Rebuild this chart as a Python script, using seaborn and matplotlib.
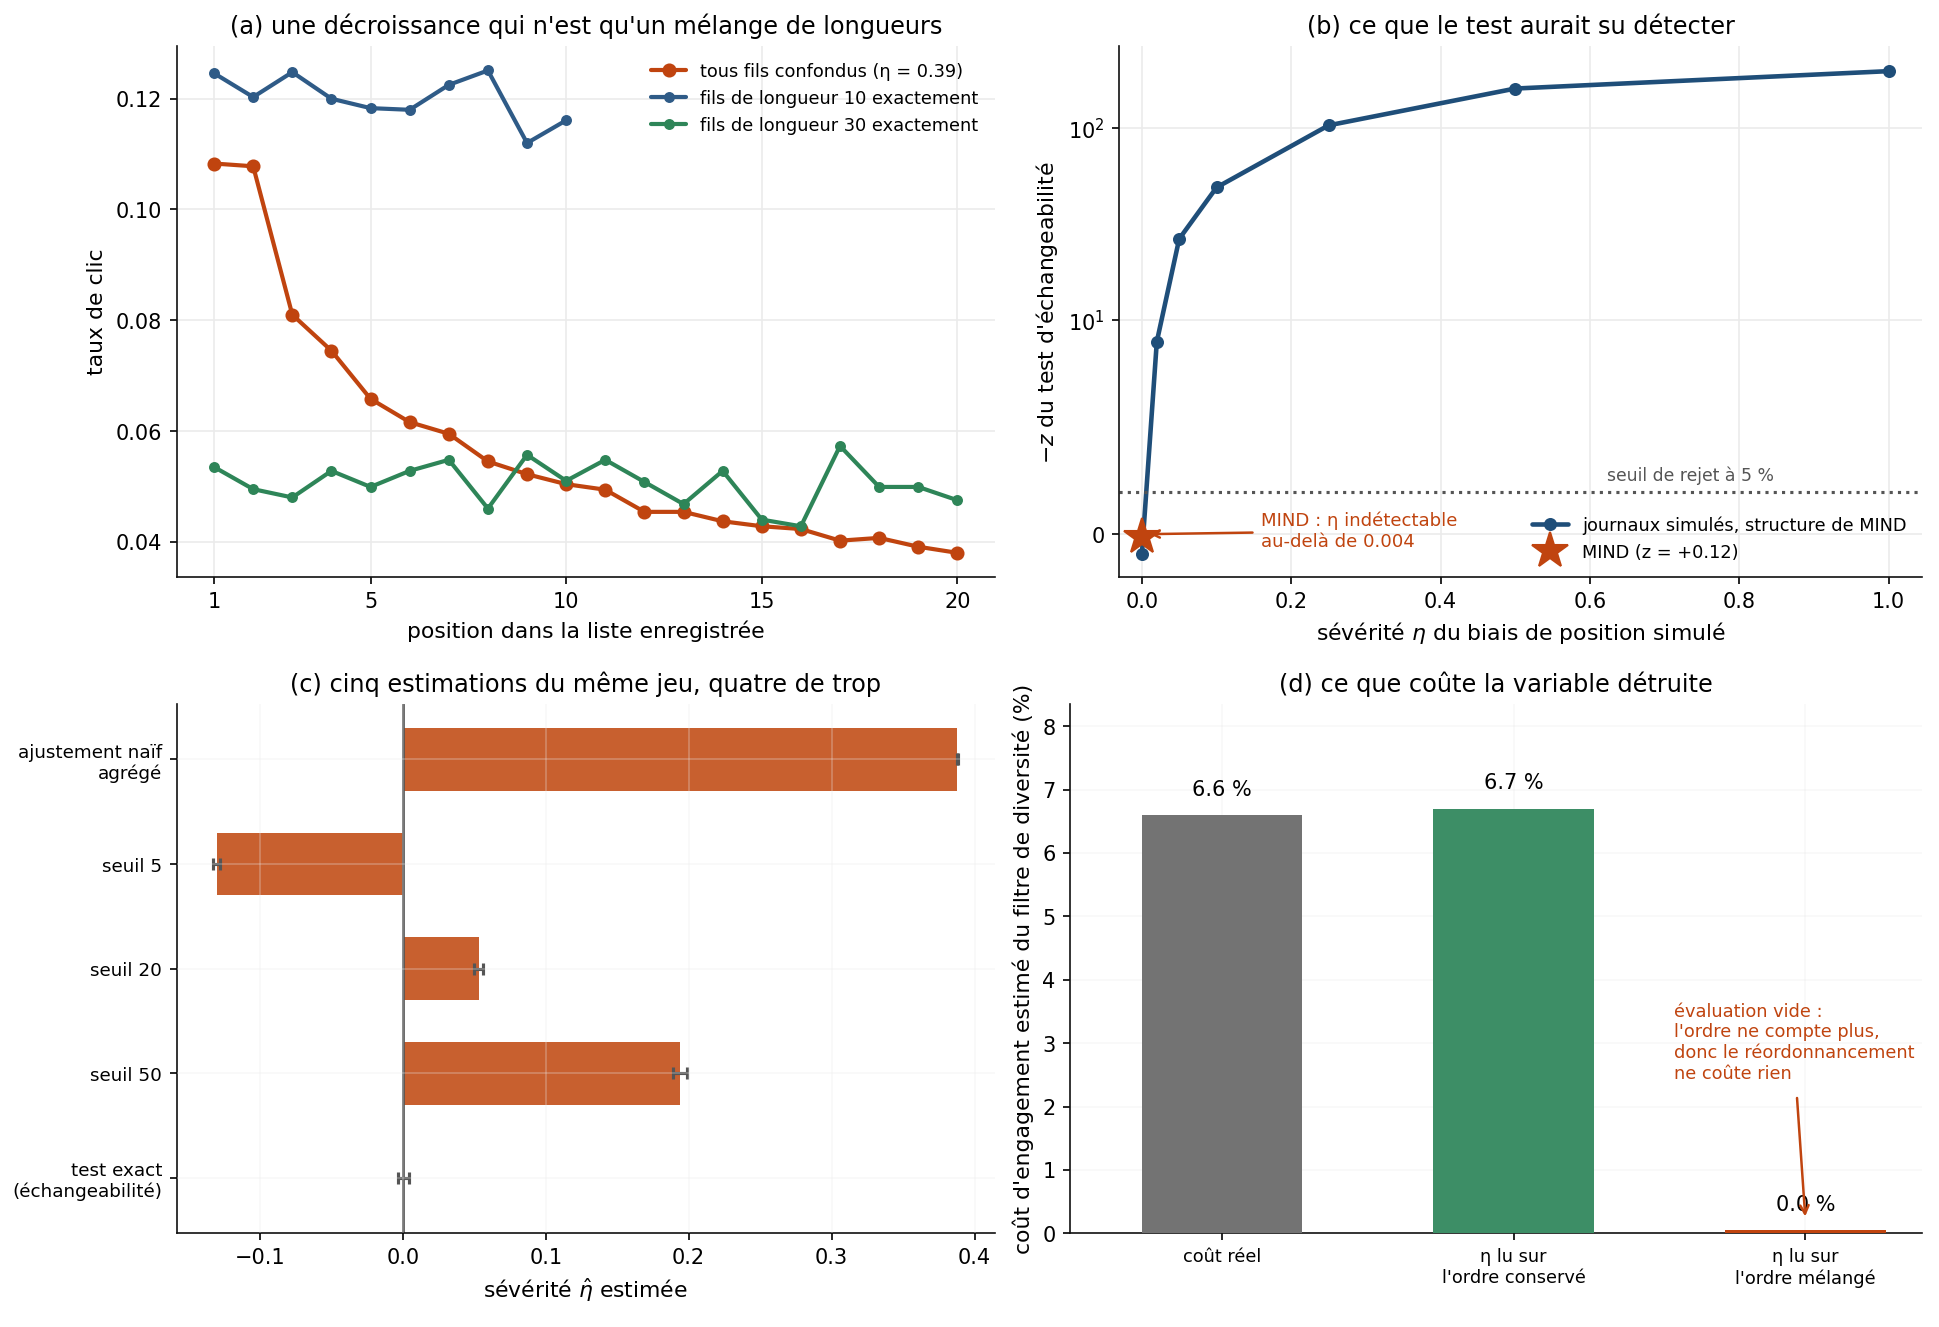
import matplotlib
matplotlib.use("Agg")
import matplotlib.pyplot as plt
import numpy as np
import pandas as pd
import seaborn as sns

# ---- data ----
positions = list(range(1, 21))
ctr_all = [0.1083, 0.1078, 0.0810, 0.0745, 0.0658, 0.0616, 0.0595, 0.0545, 0.0522, 0.0504,
           0.0494, 0.0454, 0.0454, 0.0437, 0.0428, 0.0423, 0.0402, 0.0407, 0.0391, 0.0380]
ctr_len10 = [0.1246, 0.1203, 0.1248, 0.1200, 0.1183, 0.1180, 0.1225, 0.1251, 0.1120, 0.1161]
ctr_len30 = [0.0535, 0.0495, 0.0480, 0.0528, 0.0499, 0.0528, 0.0548, 0.0460, 0.0557, 0.0510,
             0.0548, 0.0508, 0.0468, 0.0528, 0.0440, 0.0428, 0.0573, 0.0499, 0.0499, 0.0475]

eta_sim = [0.0, 0.02, 0.05, 0.1, 0.25, 0.5, 1.0]
neg_z_sim = [-0.94, 9.0, 26.5, 49.0, 103.0, 160.0, 197.0]
mind_eta = 0.0
mind_z = 0.12
z_threshold = 1.96

est_labels = ["ajustement naïf\nagrégé", "seuil 5", "seuil 20", "seuil 50", "test exact\n(échangeabilité)"]
est_values = [0.388, -0.130, 0.053, 0.194, 0.0004]
est_err = [0.0005, 0.0025, 0.003, 0.005, 0.004]

cost_labels = ["coût réel", "η lu sur\nl'ordre conservé", "η lu sur\nl'ordre mélangé"]
cost_values = [6.6, 6.7, 0.05]
cost_text = ["6.6 %", "6.7 %", "0.0 %"]

# ---- style ----
RED = "#c0440f"
BLUE_A = "#2f5b87"
GREEN = "#2e8558"
BLUE_B = "#1f4e79"
GRAY = "#555555"

sns.set_style("ticks", {"axes.grid": True, "grid.color": "#ebebeb", "axes.edgecolor": "#111111",
                        "text.color": "black", "axes.labelcolor": "black",
                        "xtick.color": "black", "ytick.color": "black"})
plt.rcParams["font.family"] = ["DejaVu Sans"]
plt.rcParams["font.size"] = 10

fig, axs = plt.subplots(2, 2, figsize=(12.93, 8.85), dpi=150)
# axes boxes measured on the reference
axs[0, 0].set_position([0.0912, 0.565, 0.4216, 0.3997])
axs[0, 1].set_position([0.5772, 0.565, 0.4139, 0.3997])
axs[1, 0].set_position([0.0912, 0.0706, 0.4216, 0.3987])
axs[1, 1].set_position([0.5517, 0.0706, 0.4394, 0.3987])

# (a) click rate per position
ax = axs[0, 0]
sns.lineplot(x=positions, y=ctr_all, ax=ax, color=RED, marker="o", markersize=6, mec=RED,
             lw=2, label="tous fils confondus (η = 0.39)")
sns.lineplot(x=positions[:10], y=ctr_len10, ax=ax, color=BLUE_A, marker="o", markersize=4.5,
             mec=BLUE_A, lw=2, label="fils de longueur 10 exactement")
sns.lineplot(x=positions, y=ctr_len30, ax=ax, color=GREEN, marker="o", markersize=4.5,
             mec=GREEN, lw=2, label="fils de longueur 30 exactement")
ax.set_xticks([1, 5, 10, 15, 20])
ax.set_xlabel("position dans la liste enregistrée", fontsize=10.5)
ax.set_ylabel("taux de clic", fontsize=10.5)
ax.set_title("(a) une décroissance qui n'est qu'un mélange de longueurs", fontsize=11.5)
ax.legend(loc="upper right", frameon=False, fontsize=8.5)

# (b) sensitivity of the exchangeability test
ax = axs[0, 1]
sns.lineplot(x=eta_sim, y=neg_z_sim, ax=ax, color=BLUE_B, marker="o", markersize=5.5,
             mec=BLUE_B, lw=2.2, label="journaux simulés, structure de MIND")
ax.plot([mind_eta], [-mind_z], marker="*", ms=18, color=RED, ls="none",
        label="MIND (z = +0.12)")
ax.set_yscale("symlog", linthresh=10)
ax.set_ylim(-2.0, 265)
ax.set_xlim(-0.03, 1.045)
ax.axhline(z_threshold, color=GRAY, ls=":", lw=1.5)
ax.text(0.735, 2.3, "seuil de rejet à 5 %", color=GRAY, fontsize=8.3, ha="center", va="bottom")
ax.annotate("MIND : η indétectable\nau-delà de 0.004", xy=(0.005, 0.0), xytext=(0.16, 0.15),
            color=RED, fontsize=8.7, va="center",
            arrowprops=dict(arrowstyle="->", color=RED, lw=1.2))
ax.set_xlabel("sévérité $\\eta$ du biais de position simulé", fontsize=10.5)
ax.set_ylabel("$-z$ du test d'échangeabilité", fontsize=10.5)
ax.set_title("(b) ce que le test aurait su détecter", fontsize=11.5)
ax.legend(loc="lower right", frameon=False, fontsize=8.5)

# (c) five estimates
ax = axs[1, 0]
sns.barplot(x=est_values, y=est_labels, orient="h", color="#c8602f", saturation=1,
            width=0.6, linewidth=0, ax=ax)
ax.errorbar(est_values, range(len(est_labels)), xerr=est_err, fmt="none",
            ecolor=GRAY, capsize=3, elinewidth=1.5, capthick=1.5)
ax.axvline(0, color=GRAY, lw=1.3)
ax.set_xlim(-0.158, 0.414)
ax.tick_params(axis="y", labelsize=8.8)
ax.set_ylabel("")
ax.set_xlabel("sévérité $\\hat{\\eta}$ estimée", fontsize=10.5)
ax.set_title("(c) cinq estimations du même jeu, quatre de trop", fontsize=11.5)
ax.grid(True, axis="both")
ax.set_axisbelow(False)
for line in ax.get_xgridlines() + ax.get_ygridlines():
    line.set_alpha(0.3)

# (d) estimated engagement cost
ax = axs[1, 1]
sns.barplot(x=cost_labels, y=cost_values, hue=cost_labels, palette=["#737373", "#3d8e66", RED],
            saturation=1, width=0.55, linewidth=0, legend=False, ax=ax, zorder=3)
ax.patches[2].set_zorder(4)  # thin shuffled-order bar sits above the grid / spine
for i, (v, t) in enumerate(zip(cost_values, cost_text)):
    ax.text(i, v + 0.25, t, ha="center", va="bottom", fontsize=10)
ax.annotate("évaluation vide :\nl'ordre ne compte plus,\ndonc le réordonnancement\nne coûte rien",
            xy=(2.0, 0.22), xytext=(1.55, 2.38), color=RED, fontsize=8.5, ha="left", va="bottom")
ax.annotate("", xy=(2.0, 0.2), xytext=(1.97, 2.2),
            arrowprops=dict(arrowstyle="->", color=RED, lw=1.2))
ax.set_xlim(-0.52, 2.4)
ax.set_ylim(0, 8.35)
ax.set_xlabel("")
ax.set_ylabel("coût d'engagement estimé du filtre de diversité (%)", fontsize=10.5)
ax.tick_params(axis="x", labelsize=8.5)
ax.set_title("(d) ce que coûte la variable détruite", fontsize=11.5)
ax.grid(True, axis="both")
for line in ax.get_xgridlines() + ax.get_ygridlines():
    line.set_alpha(0.35)
    line.set_zorder(3.5)

for a in axs.flat:
    sns.despine(ax=a)

fig.savefig("out.png", dpi=150)
